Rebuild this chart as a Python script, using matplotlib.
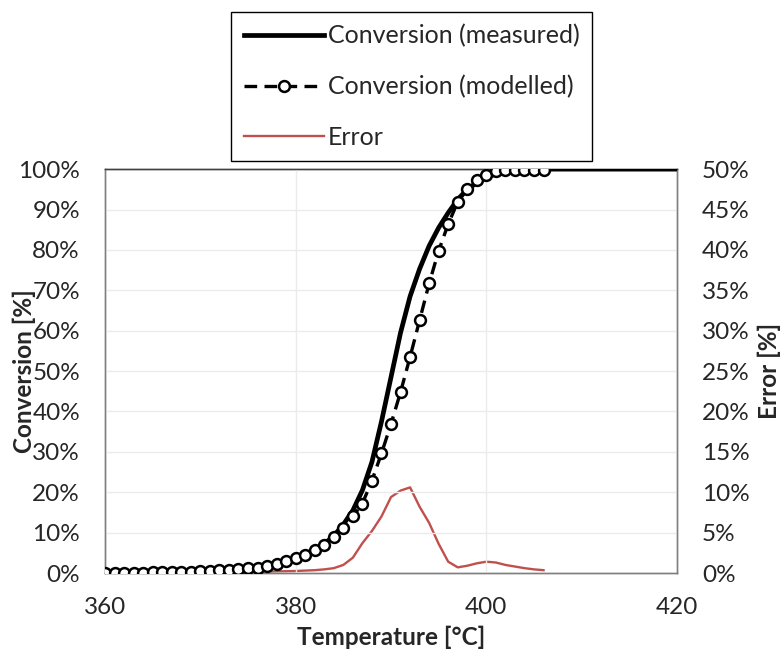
import matplotlib
matplotlib.use("Agg")
import matplotlib.pyplot as plt

plt.rcParams['font.family'] = ['Lato', 'DejaVu Sans']

# Temperature grid [°C]
temp_model = list(range(360, 407))
temp_meas = list(range(360, 421))

# Measured conversion [%], 360..420 °C
conv_measured = [0.0, 0.05, 0.1, 0.1, 0.15, 0.2, 0.25, 0.3, 0.35, 0.45,
                 0.55, 0.65, 0.8, 0.95, 1.15, 1.35, 1.6, 2.0, 2.5, 3.1,
                 3.8, 4.7, 5.8, 7.2, 9.2, 12.0, 15.5, 20.5, 27.5, 37.5,
                 48.5, 59.5, 68.5, 75.3, 81.0, 85.5, 89.2, 92.5, 95.0, 96.6,
                 98.0, 98.8, 99.3, 99.6, 99.8, 99.9, 100, 100, 100, 100,
                 100, 100, 100, 100, 100, 100, 100, 100, 100, 100, 100]

# Modelled conversion [%], 360..406 °C
conv_modelled = [0.0, 0.0, 0.08, 0.08, 0.1, 0.17, 0.17, 0.2, 0.25, 0.33,
                 0.4, 0.5, 0.66, 0.83, 1.0, 1.2, 1.35, 1.7, 2.3, 3.0,
                 3.7, 4.5, 5.6, 7.0, 8.9, 11.1, 14.0, 17.2, 22.9, 29.6,
                 36.9, 44.8, 53.5, 62.6, 71.7, 79.8, 86.4, 91.9, 95.0, 97.3,
                 98.6, 99.5, 99.8, 99.8, 99.8, 99.8, 99.8]

# Error [%], 360..406 °C
error = [0.0, 0.0, 0.0, 0.0, 0.02, 0.03, 0.04, 0.05, 0.06, 0.07,
         0.08, 0.09, 0.1, 0.1, 0.12, 0.13, 0.15, 0.17, 0.2, 0.22,
         0.25, 0.3, 0.35, 0.45, 0.6, 1.0, 1.9, 3.7, 5.2, 7.0,
         9.4, 10.2, 10.6, 8.2, 6.2, 3.6, 1.4, 0.7, 0.9, 1.2,
         1.4, 1.3, 1.0, 0.8, 0.6, 0.45, 0.35]

conv_ticks = list(range(0, 101, 10))
err_ticks = list(range(0, 51, 5))
temp_ticks = [360, 380, 400, 420]

RED = '#C0504D'
TXT = '#262626'
FS = 17.5

fig = plt.figure(figsize=(7.8, 6.53), dpi=100)
ax = fig.add_axes([0.1346, 0.1225, 0.7334, 0.6185])
ax2 = ax.twinx()

l_err, = ax2.plot(temp_model, error, color=RED, linewidth=1.7, label='Error')
l_meas, = ax.plot(temp_meas, conv_measured, color='black', linewidth=3.4,
                  label='Conversion (measured)', zorder=3)
l_mod, = ax.plot(temp_model, conv_modelled, color='black', linewidth=2.4,
                 linestyle=(0, (3.8, 2.2)), marker='o', markersize=7.8,
                 markerfacecolor='white', markeredgecolor='black',
                 markeredgewidth=1.8, label='Conversion (modelled)', zorder=4)

ax.set_zorder(ax2.get_zorder() + 1)
ax.patch.set_visible(False)

ax.set_xlim(360, 420)
ax.set_ylim(0, 100)
ax2.set_ylim(0, 50)
ax.set_xticks(temp_ticks)
ax.set_yticks(conv_ticks)
ax.set_yticklabels([f"{v}%" for v in conv_ticks])
ax2.set_yticks(err_ticks)
ax2.set_yticklabels([f"{v}%" for v in err_ticks])

ax.grid(True, color='#ebebeb', linewidth=1)
ax.set_axisbelow(True)
for a in (ax, ax2):
    a.tick_params(length=0, labelsize=FS, colors=TXT)
    for s in a.spines.values():
        s.set_color('#7f7f7f')
        s.set_linewidth(1)
    a.spines['top'].set_color('#404040')
ax.tick_params(axis='x', pad=17)
ax.tick_params(axis='y', pad=18)
ax2.tick_params(axis='y', pad=18)

ax.set_xlabel("Temperature [°C]", fontsize=FS, fontweight='bold', color=TXT, labelpad=6)
ax.set_ylabel("Conversion [%]", fontsize=FS, fontweight='bold', color=TXT, labelpad=-13)
ax2.set_ylabel("Error [%]", fontsize=FS, fontweight='bold', color=TXT, labelpad=6,
               rotation=90)

leg = fig.legend(handles=[l_meas, l_mod, l_err], loc='upper center',
                 bbox_to_anchor=(0.5276, 0.982), fontsize=18, numpoints=1,
                 handlelength=3.2, handletextpad=0.15, labelspacing=1.1,
                 borderpad=0.5, borderaxespad=0, fancybox=False,
                 framealpha=1, edgecolor='black')
leg.get_frame().set_linewidth(1)
for t in leg.get_texts():
    t.set_color(TXT)

fig.savefig("out.png", dpi=100)
